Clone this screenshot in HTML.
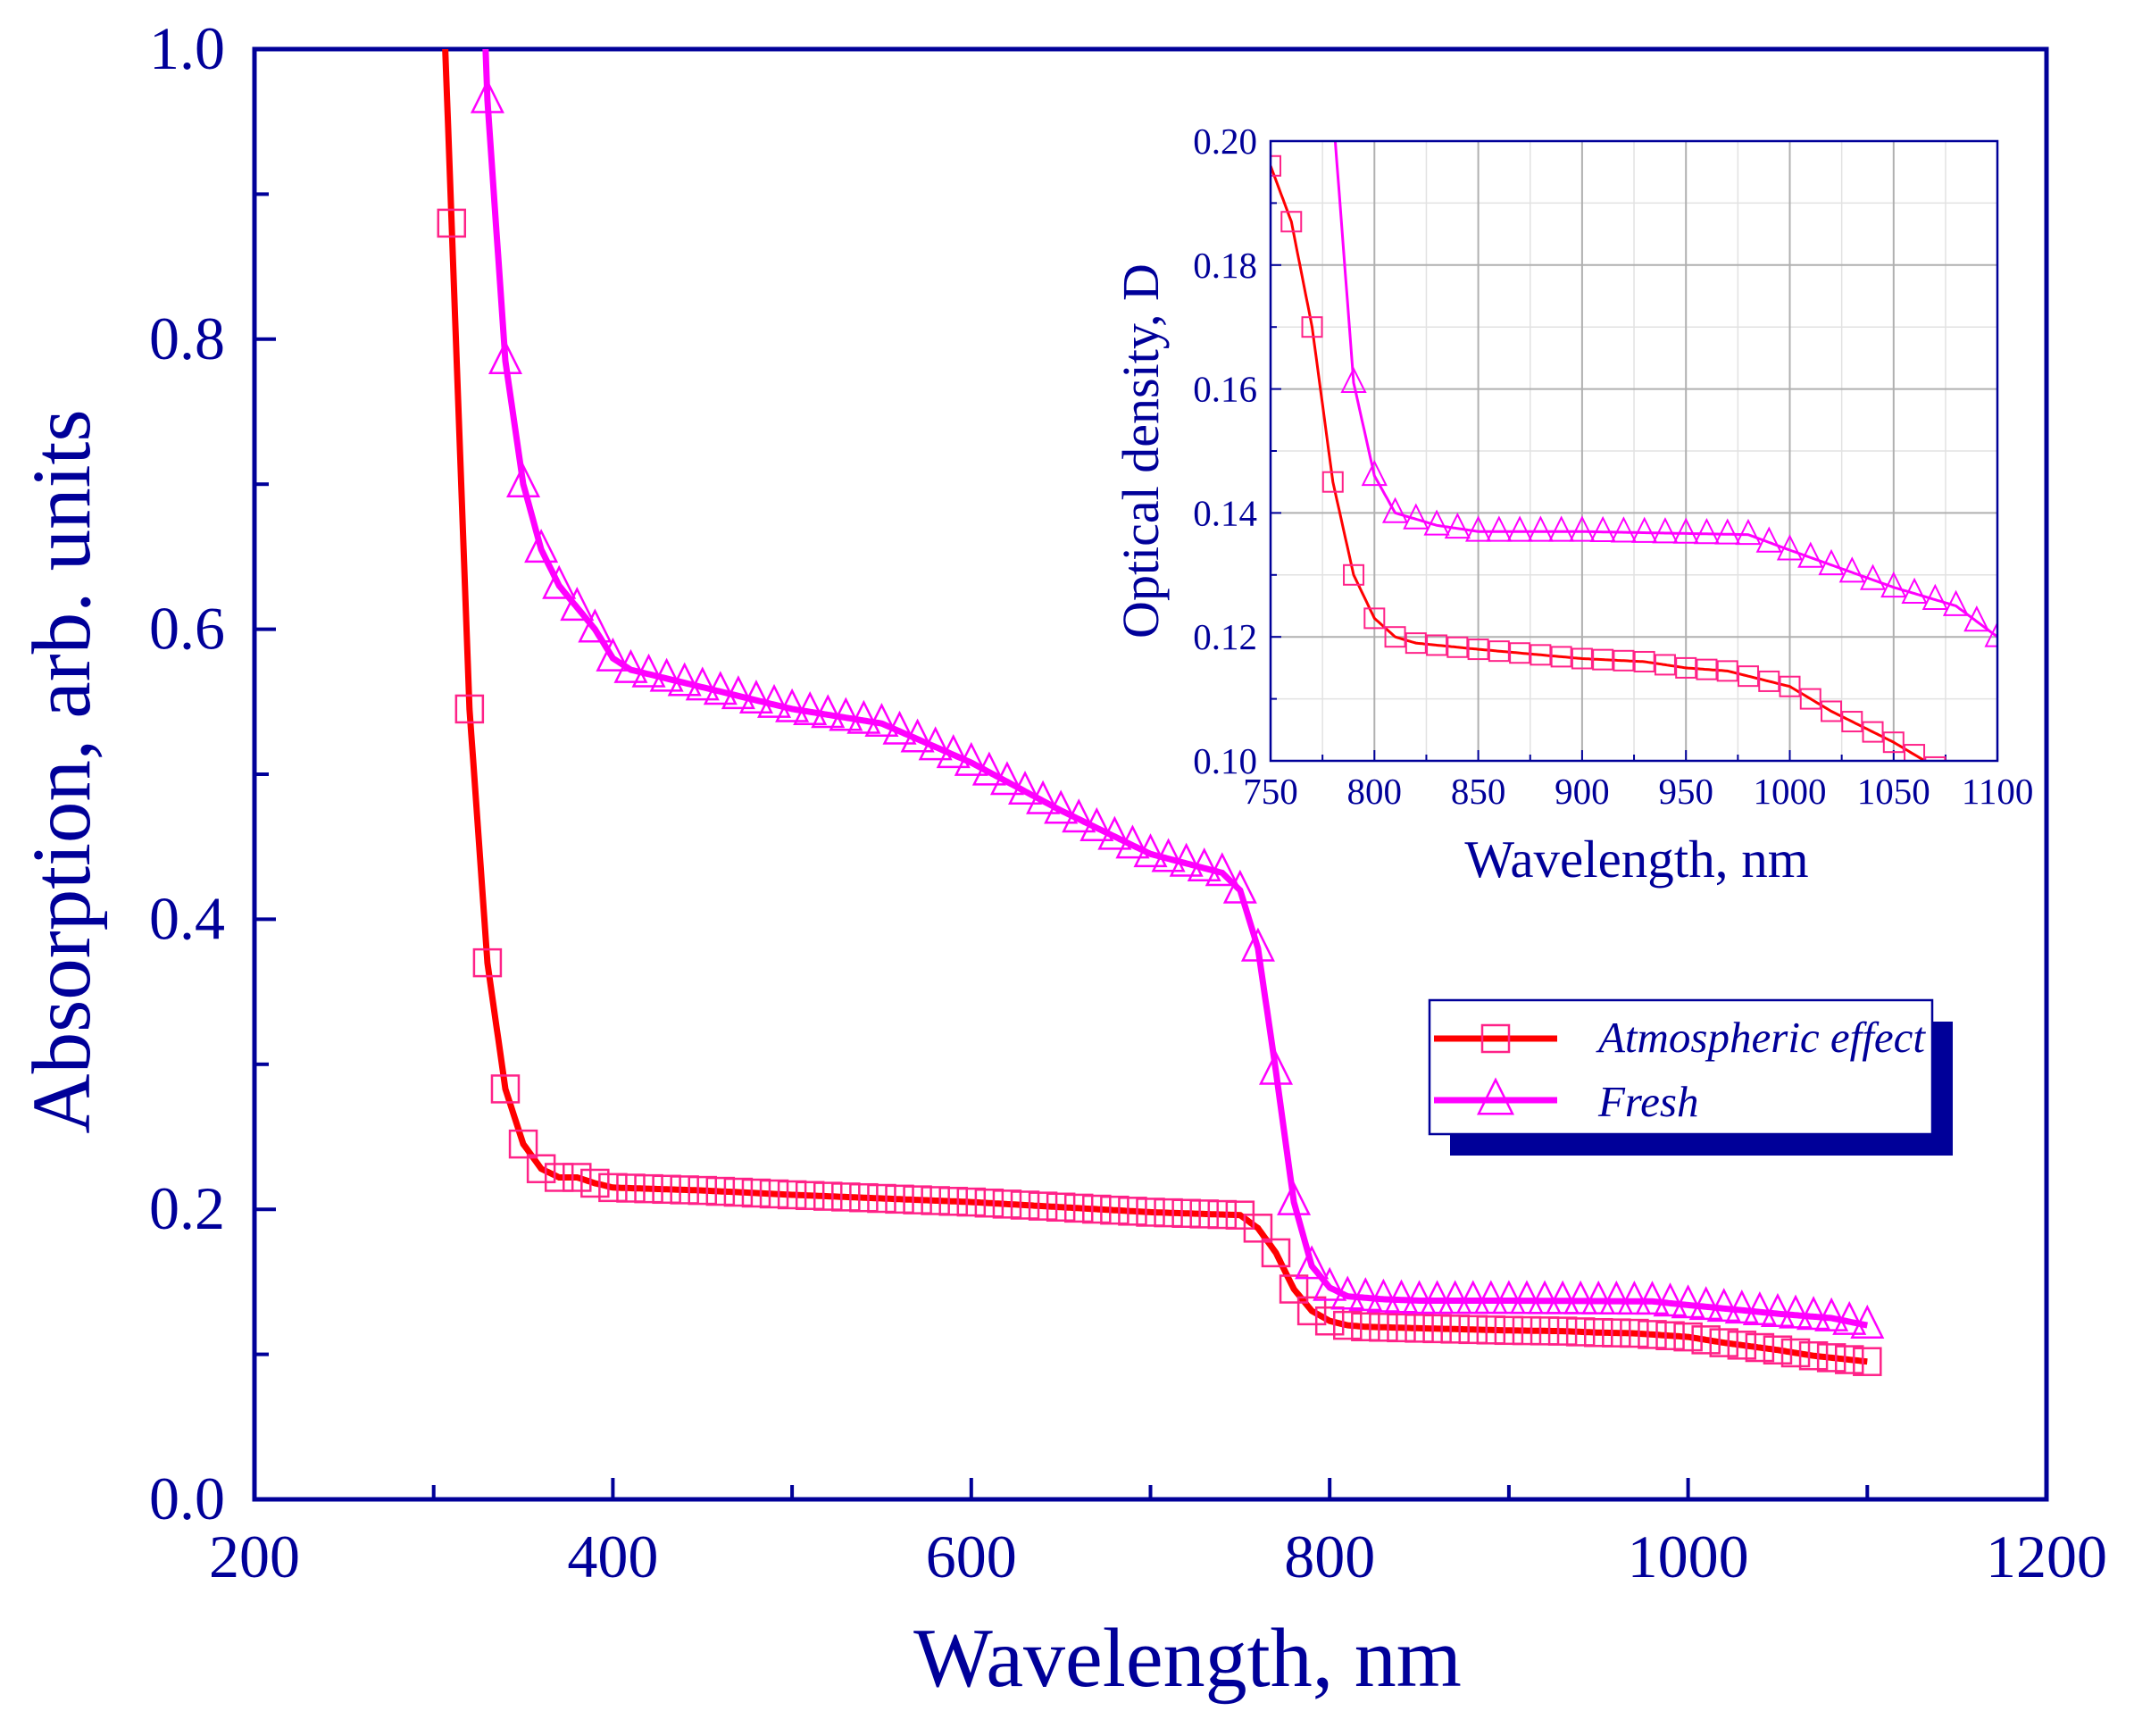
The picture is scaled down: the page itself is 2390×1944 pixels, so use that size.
<!DOCTYPE html>
<html><head><meta charset="utf-8"><style>
html,body{margin:0;padding:0;background:#fff;}
svg text{font-family:"Liberation Serif",serif;fill:#000099;}
</style></head><body>
<svg id="s" width="2390" height="1939" xmlns="http://www.w3.org/2000/svg"></svg>
<script>
const S=document.getElementById('s');let h='';
const N='#000099';
const red=[[305,1.05],[310,0.88],[320,0.545],[330,0.37],[340,0.283],[350,0.245],[360,0.228],[370,0.222],[380,0.222],[390,0.218],[400,0.215],[450,0.213],[500,0.21],[600,0.205],[700,0.198],[750,0.196],[760,0.187],[770,0.17],[780,0.145],[790,0.13],[800,0.123],[810,0.12],[820,0.119],[850,0.118],[900,0.1165],[930,0.116],[950,0.115],[970,0.1145],[1000,0.112],[1020,0.108],[1050,0.103],[1070,0.099],[1100,0.095]];
const mag=[[326,1.1],[330,0.965],[340,0.785],[350,0.7],[360,0.655],[370,0.63],[380,0.615],[390,0.6],[400,0.58],[410,0.572],[450,0.56],[500,0.545],[550,0.535],[600,0.508],[650,0.475],[700,0.445],[740,0.432],[750,0.42],[760,0.38],[770,0.295],[780,0.205],[790,0.161],[800,0.146],[810,0.14],[830,0.138],[850,0.137],[900,0.137],[980,0.1365],[1000,0.134],[1050,0.128],[1080,0.125],[1100,0.12]];
function f(d,x){for(let i=0;i<d.length-1;i++){if(x>=d[i][0]&&x<=d[i+1][0]){const t=(x-d[i][0])/(d[i+1][0]-d[i][0]);return d[i][1]+t*(d[i+1][1]-d[i][1]);}}return d[d.length-1][1];}
const X=x=>285+(x-200)*2.007, Y=y=>1679-y*1624;
h+='<defs><clipPath id="cm"><rect x="285" y="55" width="2007" height="1624"/></clipPath><clipPath id="ci"><rect x="1423" y="158" width="814" height="694"/></clipPath></defs>';
for(let v=200;v<=1200;v+=100){const x=X(v);const L=v%200==0?24:16;h+=`<line x1="${x}" y1="1679" x2="${x}" y2="${1679-L}" stroke="${N}" stroke-width="4"/>`;if(v%200==0)h+=`<text x="${x}" y="1766" font-size="68" text-anchor="middle">${v}</text>`;}
for(let i=0;i<=10;i++){const v=i/10,y=Y(v);const L=i%2==0?24:16;h+=`<line x1="285" y1="${y}" x2="${285+L}" y2="${y}" stroke="${N}" stroke-width="4"/>`;if(i%2==0)h+=`<text x="252" y="${y+22}" font-size="68" text-anchor="end">${v.toFixed(1)}</text>`;}
h+=`<rect x="285" y="55" width="2007" height="1624" fill="none" stroke="${N}" stroke-width="5"/>`;
h+=`<text x="1330" y="1888" font-size="94" text-anchor="middle">Wavelength, nm</text>`;
h+=`<text transform="translate(100,864) rotate(-90)" font-size="93" text-anchor="middle">Absorption, arb. units</text>`;
function line(d,x0,x1,Xf,Yf,col,w,clip){let p='';for(let x=x0;x<=x1;x+=1){p+=(p?'L':'M')+Xf(x).toFixed(1)+' '+Yf(f(d,x)).toFixed(1);}return `<path d="${p}" fill="none" stroke="${col}" stroke-width="${w}" clip-path="url(#${clip})"/>`;}
function sq(x,y,s,c,w){return `<rect x="${x-s/2}" y="${y-s/2}" width="${s}" height="${s}" fill="none" stroke="${c}" stroke-width="${w}"/>`;}
function tri(x,y,s,c,w){return `<polygon points="${x},${y-s*0.6} ${x-s/2},${y+s*0.4} ${x+s/2},${y+s*0.4}" fill="none" stroke="${c}" stroke-width="${w}"/>`;}
h+=line(red,305,1100,X,Y,'#ff0000',7,'cm');
h+=line(mag,326,1100,X,Y,'#ff00ff',7,'cm');
let g='<g clip-path="url(#cm)">';
for(let x=310;x<=1100;x+=10)g+=sq(X(x),Y(f(red,x)),30,'#ff2288',2.5);
for(let x=330;x<=1100;x+=10)g+=tri(X(x),Y(f(mag,x)),34,'#ff00ff',2.5);
h+=g+'</g>';
const IX=x=>1423+(x-750)*2.326, IY=y=>852-(y-0.10)*6940;
h+=`<rect x="1423" y="158" width="814" height="694" fill="#fff"/>`;
for(let v=775;v<1100;v+=50)h+=`<line x1="${IX(v)}" y1="158" x2="${IX(v)}" y2="852" stroke="#e2e2e2" stroke-width="1.5"/>`;
for(let v=0.11;v<0.2;v+=0.02)h+=`<line x1="1423" y1="${IY(v)}" x2="2237" y2="${IY(v)}" stroke="#e2e2e2" stroke-width="1.5"/>`;
for(let v=800;v<1100;v+=50)h+=`<line x1="${IX(v)}" y1="158" x2="${IX(v)}" y2="852" stroke="#b0b0b0" stroke-width="2"/>`;
for(let v=0.12;v<0.199;v+=0.02)h+=`<line x1="1423" y1="${IY(v)}" x2="2237" y2="${IY(v)}" stroke="#b0b0b0" stroke-width="2"/>`;
for(let v=750;v<=1100;v+=25){const L=v%50==0?12:7;h+=`<line x1="${IX(v)}" y1="852" x2="${IX(v)}" y2="${852-L}" stroke="${N}" stroke-width="2"/>`;if(v%50==0)h+=`<text x="${IX(v)}" y="900" font-size="41" text-anchor="middle">${v}</text>`;}
for(let i=0;i<=10;i++){const v=0.10+i*0.01;const L=i%2==0?12:7;h+=`<line x1="1423" y1="${IY(v)}" x2="${1423+L}" y2="${IY(v)}" stroke="${N}" stroke-width="2"/>`;if(i%2==0)h+=`<text x="1408" y="${IY(v)+14}" font-size="41" text-anchor="end">${v.toFixed(2)}</text>`;}
h+=line(red,750,1100,IX,IY,'#ff0000',3,'ci');
h+=line(mag,750,1100,IX,IY,'#ff00ff',3,'ci');
g='<g clip-path="url(#ci)">';
for(let x=750;x<=1100;x+=10)g+=sq(IX(x),IY(f(red,x)),22,'#ff2288',2);
for(let x=790;x<=1100;x+=10)g+=tri(IX(x),IY(f(mag,x)),26,'#ff00ff',2);
h+=g+'</g>';
h+=`<rect x="1423" y="158" width="814" height="694" fill="none" stroke="${N}" stroke-width="2.5"/>`;
h+=`<text x="1833" y="982" font-size="59" text-anchor="middle">Wavelength, nm</text>`;
h+=`<text transform="translate(1297,505) rotate(-90)" font-size="58" text-anchor="middle">Optical density, D</text>`;
h+=`<rect x="1624" y="1144" width="563" height="150" fill="${N}"/>`;
h+=`<rect x="1601" y="1120" width="563" height="150" fill="#fff" stroke="${N}" stroke-width="2.5"/>`;
h+=`<line x1="1606" y1="1163" x2="1744" y2="1163" stroke="#ff0000" stroke-width="7"/>`+sq(1675,1163,30,'#ff2288',2.5);
h+=`<line x1="1606" y1="1232" x2="1744" y2="1232" stroke="#ff00ff" stroke-width="7"/>`+tri(1675,1232,38,'#ff00ff',2.5);
h+=`<text x="1790" y="1178" font-size="49" font-style="italic">Atmospheric effect</text>`;
h+=`<text x="1790" y="1250" font-size="49" font-style="italic">Fresh</text>`;
S.innerHTML=h;
</script>
</body></html>
